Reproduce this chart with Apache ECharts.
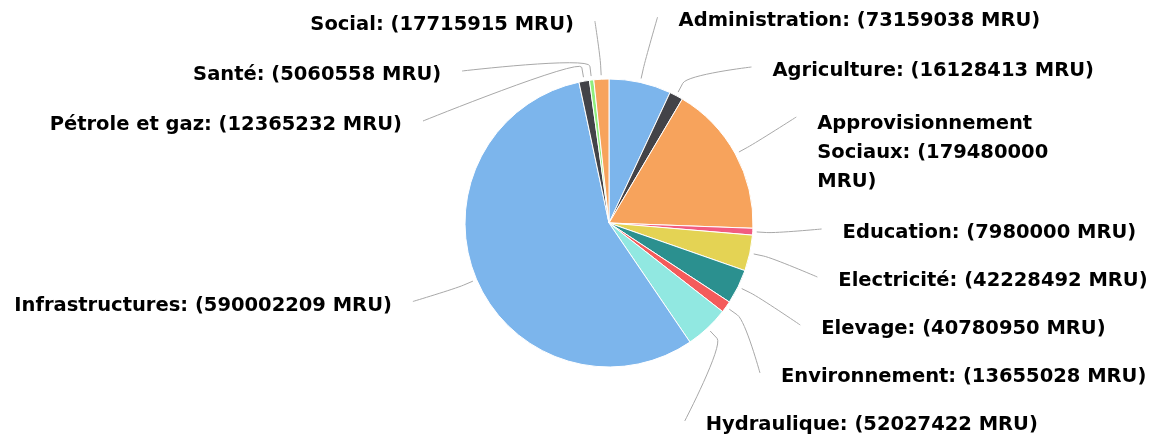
<!DOCTYPE html>
<html><head><meta charset="utf-8">
<script src="https://cdn.jsdelivr.net/npm/echarts@6/dist/echarts.min.js"></script>
<style>html,body{margin:0;padding:0;background:#fff}#c{width:1160px;height:437px}</style>
</head><body><div id="c"></div>
<script>
const categories = ["Administration","Agriculture","Approvisionnement Sociaux","Education","Electricité","Elevage","Environnement","Hydraulique","Infrastructures","Pétrole et gaz","Santé","Social"];
const values = [73159038,16128413,179480000,7980000,42228492,40780950,13655028,52027422,590002209,12365232,5060558,17715915];
const colors = ["#7cb5ec","#434348","#f7a35c","#f15c80","#e4d354","#2b908f","#f45b5b","#91e8e1","#7cb5ec","#434348","#90ed7d","#f7a35c"];

// layout constants
const CX = 609, CY = 223, R = 144, DIST = 66, GAP = 24, LINE_GAP = 21;
const VIEW_TOP = -4, VIEW_BOTTOM = -14;
const RL = R + DIST;

const data = categories.map((n,i)=>{
  const d = {name:n, value:values[i], itemStyle:{color:colors[i]}};
  if (n === "Approvisionnement Sociaux") d.label = {width:240, overflow:'break', lineHeight:29, padding:[12,0,13,0]};
  return d;
});

function layoutLabel(params){
  const lr = params.labelRect;
  const pts = params.labelLinePoints;
  if (!pts) return {};
  const p0 = pts[0];
  let ux = p0[0]-CX, uy = p0[1]-CY;
  const len = Math.sqrt(ux*ux+uy*uy) || 1; ux/=len; uy/=len;
  const side = ux >= 0 ? 1 : -1;
  const cyLabel = lr.y + lr.height/2;
  const firstLineY = lr.y + 25;
  const anchorY = firstLineY - 6;
  const natY = CY + uy*RL;
  let xEdge;
  if (Math.abs(firstLineY - natY) < 20) {
    xEdge = CX + ux*RL;
  } else {
    const dy = Math.max(-RL, Math.min(RL, anchorY - CY));
    xEdge = CX + side*Math.sqrt(RL*RL - dy*dy);
  }
  const textX = xEdge + side*GAP;
  // connector: straight piece out of the slice, then a soft bezier to the label
  const s = [CX + ux*(R+4), CY + uy*(R+4)];
  const b = [CX + ux*(R+14), CY + uy*(R+14)];
  const c1 = [2*b[0]-s[0], 2*b[1]-s[1]];
  const e = [textX - side*LINE_GAP, firstLineY - 5];
  const line = [s, b];
  const N = 16;
  for (let k=1;k<=N;k++){
    const t=k/N, mt=1-t;
    const x = mt*mt*mt*b[0] + 3*mt*mt*t*c1[0] + 3*mt*t*t*e[0] + t*t*t*e[0];
    const y = mt*mt*mt*b[1] + 3*mt*mt*t*c1[1] + 3*mt*t*t*e[1] + t*t*t*e[1];
    line.push([x,y]);
  }
  return {x: textX, y: cyLabel, labelLinePoints: line};
}

const chart = echarts.init(document.getElementById('c'), null, {renderer:'canvas'});
chart.setOption({
  animation:false,
  series:[{
    type:'pie',
    top:VIEW_TOP, bottom:VIEW_BOTTOM, left:0, right:0,
    center:[CX, CY - VIEW_TOP],
    radius:R,
    startAngle:90,
    clockwise:true,
    data:data,
    itemStyle:{borderColor:'#fff',borderWidth:1},
    label:{
      formatter: p => p.name + ': (' + p.value + ' MRU)',
      fontFamily:'DejaVu Sans', fontWeight:'bold', fontSize:19.5, color:'#000',
      lineHeight:22, padding:[13,0,13,0], distanceToLabelLine:0, bleedMargin:0, overflow:'none'
    },
    labelLine:{length:DIST,length2:0,smooth:false,lineStyle:{color:'#a8a8a8',width:1}},
    labelLayout: layoutLabel
  }]
});
</script></body></html>
